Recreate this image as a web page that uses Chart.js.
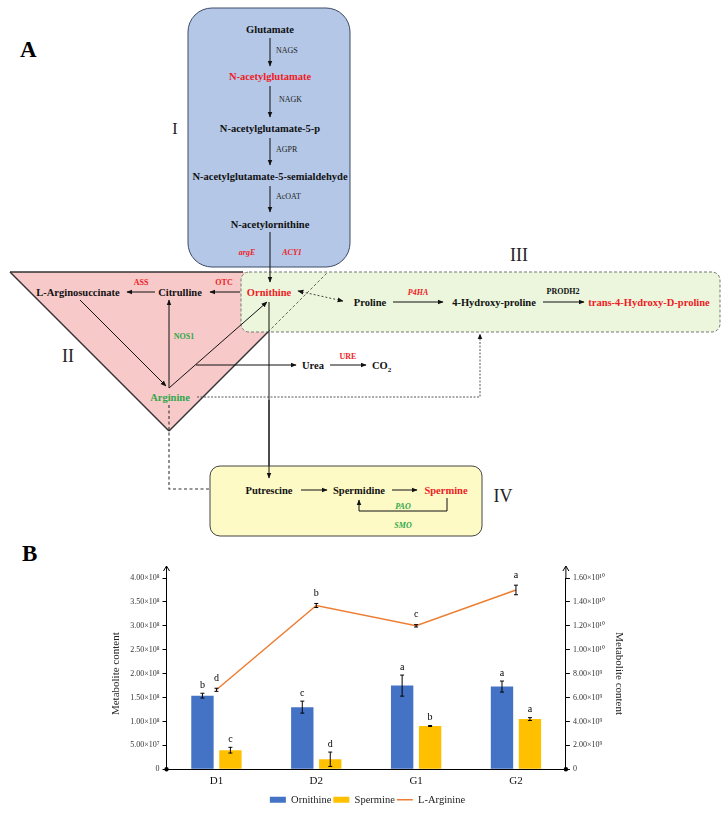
<!DOCTYPE html>
<html>
<head>
<meta charset="utf-8">
<script src="https://cdn.jsdelivr.net/npm/chart.js@4.4.1/dist/chart.umd.min.js"></script>
<style>
html, body { margin: 0; padding: 0; background: #fff; }
#page { position: relative; width: 728px; height: 813px; overflow: hidden; font-family: "Liberation Serif", "Times New Roman", serif; }
#diagram { position: absolute; left: 0; top: 0; }
#chartBox { position: absolute; left: 96px; top: 556px; width: 545px; height: 259px; }
#diagram text { font-family: "Liberation Serif", "Times New Roman", serif; }
.n { font-weight: bold; font-size: 10.5px; text-anchor: middle; fill: #111; }
.e { font-size: 8px; fill: #222; }
.eb { font-size: 8px; font-weight: bold; text-anchor: middle; }
.rom { font-size: 18px; text-anchor: middle; fill: #222; }
.red { fill: #ee1c25; }
.grn { fill: #2ea84a; }
.it { font-style: italic; }
.ln { stroke: #111; stroke-width: 1; fill: none; }
</style>
</head>
<body>
<div id="page">
<svg id="diagram" width="728" height="575" viewBox="0 0 728 575">
  <defs>
    <marker id="ah" viewBox="0 0 10 10" refX="9" refY="5" markerWidth="6" markerHeight="6" markerUnits="userSpaceOnUse" orient="auto-start-reverse">
      <path d="M0,1 L10,5 L0,9 z" fill="#111"/>
    </marker>
  </defs>

  <text x="20" y="57" style="font-weight:bold;font-size:23px;fill:#000">A</text>
  <text x="22" y="561" style="font-weight:bold;font-size:23px;fill:#000">B</text>

  <!-- box I -->
  <rect x="188" y="8" width="162" height="259" rx="24" fill="#b4c7e7" stroke="#3d4a66" stroke-width="1"/>
  <text class="n" x="270" y="33">Glutamate</text>
  <text class="n red" x="270" y="80">N-acetylglutamate</text>
  <text class="n" x="270" y="132">N-acetylglutamate-5-p</text>
  <text class="n" x="270" y="180">N-acetylglutamate-5-semialdehyde</text>
  <text class="n" x="270" y="228">N-acetylornithine</text>
  <line class="ln" x1="270" y1="38" x2="270" y2="66" marker-end="url(#ah)"/>
  <line class="ln" x1="270" y1="86" x2="270" y2="117" marker-end="url(#ah)"/>
  <line class="ln" x1="270" y1="138" x2="270" y2="165" marker-end="url(#ah)"/>
  <line class="ln" x1="270" y1="186" x2="270" y2="212" marker-end="url(#ah)"/>
  <text class="e" x="276" y="53">NAGS</text>
  <text class="e" x="279" y="102">NAGK</text>
  <text class="e" x="276" y="152">AGPR</text>
  <text class="e" x="276" y="199">AcOAT</text>
  <text class="eb it red" x="247" y="255">argE</text>
  <text class="eb it red" x="292" y="255">ACY1</text>
  <text class="rom" x="175" y="134" style="font-size:16px">I</text>

  <!-- triangle II and box III -->
  <polygon points="10,272 328,272 169,431" fill="#f8c9c9"/>
  <rect x="241" y="272" width="479" height="60" rx="8" fill="#ebf6dc" stroke="#777" stroke-width="1" stroke-dasharray="3 2"/>
  <line x1="10" y1="272" x2="243" y2="272" stroke="#333" stroke-width="1.5"/>
  <line x1="10" y1="272" x2="169" y2="431" stroke="#333" stroke-width="1.5"/>
  <line x1="169" y1="431" x2="268" y2="332" stroke="#333" stroke-width="1.5"/>
  <line x1="268" y1="332" x2="328" y2="272" stroke="#444" stroke-width="0.8" stroke-dasharray="3 2"/>
  <text class="rom" x="68" y="362">II</text>
  <text class="rom" x="519" y="261">III</text>

  <line class="ln" x1="270" y1="232" x2="270" y2="282" marker-end="url(#ah)"/>
  <text class="n" x="78" y="296">L-Arginosuccinate</text>
  <text class="n" x="180" y="296">Citrulline</text>
  <text class="n red" x="269" y="296">Ornithine</text>
  <text class="n grn" x="170" y="401">Arginine</text>
  <line class="ln" x1="155" y1="292" x2="127" y2="292" marker-end="url(#ah)"/>
  <line class="ln" x1="240" y1="292" x2="210" y2="292" marker-end="url(#ah)"/>
  <text class="eb red" x="141" y="285">ASS</text>
  <text class="eb red" x="224" y="285">OTC</text>
  <line class="ln" x1="169" y1="388" x2="169" y2="300" marker-end="url(#ah)"/>
  <text class="eb grn" x="184" y="339">NOS1</text>
  <line class="ln" x1="80" y1="300" x2="166" y2="386" marker-end="url(#ah)"/>
  <line class="ln" x1="169" y1="388" x2="267" y2="302" marker-end="url(#ah)"/>
  <line class="ln" x1="269" y1="302" x2="269" y2="478" marker-end="url(#ah)"/>
  <line class="ln" x1="196" y1="365" x2="296" y2="365" marker-end="url(#ah)"/>
  <text class="n" x="313" y="369">Urea</text>
  <line class="ln" x1="330" y1="365" x2="366" y2="365" marker-end="url(#ah)"/>
  <text class="eb red" x="348" y="359">URE</text>
  <text class="n" x="372" y="369" style="text-anchor:start">CO<tspan dy="3" style="font-size:7px">2</tspan></text>

  <line x1="298" y1="291" x2="343" y2="301" stroke="#333" stroke-width="0.9" stroke-dasharray="2 2" marker-start="url(#ah)" marker-end="url(#ah)"/>
  <text class="n" x="370" y="306">Proline</text>
  <line class="ln" x1="393" y1="302" x2="443" y2="302" marker-end="url(#ah)"/>
  <text class="eb it red" x="418" y="295">P4HA</text>
  <text class="n" x="494" y="306">4-Hydroxy-proline</text>
  <line class="ln" x1="543" y1="302" x2="584" y2="302" marker-end="url(#ah)"/>
  <text class="eb" x="563" y="294" style="fill:#111">PRODH2</text>
  <text class="n red" x="649" y="306">trans-4-Hydroxy-D-proline</text>

  <polyline points="197,397 480,397 480,334" fill="none" stroke="#444" stroke-width="0.9" stroke-dasharray="2 1.5" marker-end="url(#ah)"/>
  <polyline points="169,405 169,489 236,489" fill="none" stroke="#333" stroke-width="1.1" stroke-dasharray="3 2.5" marker-end="url(#ah)"/>

  <!-- box IV -->
  <rect x="210" y="466" width="272" height="70" rx="10" fill="#fdfac6" stroke="#444" stroke-width="1"/>
  <line class="ln" x1="269" y1="400" x2="269" y2="478" marker-end="url(#ah)"/>
  <text class="n" x="269" y="494">Putrescine</text>
  <line class="ln" x1="301" y1="490" x2="327" y2="490" marker-end="url(#ah)"/>
  <text class="n" x="359" y="494">Spermidine</text>
  <line class="ln" x1="392" y1="490" x2="417" y2="490" marker-end="url(#ah)"/>
  <text class="n red" x="446" y="494">Spermine</text>
  <polyline points="447,498 447,511 359,511 359,500" fill="none" stroke="#111" stroke-width="1" marker-end="url(#ah)"/>
  <text class="eb it grn" x="403" y="509">PAO</text>
  <text class="eb it grn" x="403" y="528">SMO</text>
  <text class="rom" x="503" y="502">IV</text>
</svg>

<div id="chartBox"><canvas id="metChart"></canvas></div>
</div>

<script>
// data
const categories = ['D1', 'D2', 'G1', 'G2'];
const ornithine = [1.54e8, 1.30e8, 1.75e8, 1.73e8];
const ornithineErr = [5e6, 1.25e7, 2.2e7, 1.15e7];
const ornithineSig = ['b', 'c', 'a', 'a'];
const spermine = [4.0e7, 2.1e7, 9.05e7, 1.05e8];
const spermineErr = [6e6, 1.5e7, 1e6, 3e6];
const spermineSig = ['c', 'd', 'b', 'a'];
const arginine = [6.65e9, 1.37e10, 1.2e10, 1.5e10];
const arginineErr = [1.3e8, 1.7e8, 1e8, 4e8];
const arginineSig = ['d', 'b', 'c', 'a'];
const leftTicks = ['0', '5.00×10⁷', '1.00×10⁸', '1.50×10⁸', '2.00×10⁸', '2.50×10⁸', '3.00×10⁸', '3.50×10⁸', '4.00×10⁸'];
const rightTicks = ['0', '2.00×10⁹', '4.00×10⁹', '6.00×10⁹', '8.00×10⁹', '1.00×10¹⁰', '1.20×10¹⁰', '1.40×10¹⁰', '1.60×10¹⁰'];

const serif = '"Liberation Serif", "Times New Roman", serif';

// error bars, letters, axis arrows
const extrasPlugin = {
    id: 'extras',
    afterDatasetsDraw(chart) {
        const ctx = chart.ctx;
        const area = chart.chartArea;
        ctx.save();
        ctx.strokeStyle = '#000';
        ctx.fillStyle = '#000';
        ctx.lineWidth = 1;
        chart.data.datasets.forEach((ds, i) => {
            const meta = chart.getDatasetMeta(i);
            const scale = chart.scales[meta.yAxisID];
            meta.data.forEach((el, j) => {
                const v = ds.data[j];
                const top = scale.getPixelForValue(v + ds.errors[j]);
                const bot = scale.getPixelForValue(v - ds.errors[j]);
                ctx.beginPath();
                ctx.moveTo(el.x, top); ctx.lineTo(el.x, bot);
                ctx.moveTo(el.x - 2, top); ctx.lineTo(el.x + 2, top);
                ctx.moveTo(el.x - 2, bot); ctx.lineTo(el.x + 2, bot);
                ctx.stroke();
                ctx.font = '10px ' + serif;
                ctx.textAlign = 'center';
                ctx.textBaseline = 'bottom';
                ctx.fillText(ds.letters[j], el.x, top - (ds.type === 'line' ? 5 : 3));
            });
        });
        // y axis arrows and x axis end dots
        [area.left, area.right].forEach(x => {
            ctx.beginPath();
            ctx.moveTo(x, area.top); ctx.lineTo(x, area.top - 12);
            ctx.moveTo(x - 3, area.top - 7); ctx.lineTo(x, area.top - 12); ctx.lineTo(x + 3, area.top - 7);
            ctx.stroke();
            ctx.beginPath();
            ctx.arc(x, area.bottom, 2.2, 0, Math.PI * 2);
            ctx.fill();
        });
        ctx.restore();
    }
};

const yAxisBase = {
    beginAtZero: true,
    grid: { drawOnChartArea: false, drawTicks: true, tickLength: 4, color: '#000' },
    border: { display: true, color: '#000', width: 1 },
    title: { display: true, text: 'Metabolite content', color: '#222', font: { family: serif, size: 11 }, padding: 4 }
};

new Chart(document.getElementById('metChart'), {
    type: 'bar',
    data: {
        labels: categories,
        datasets: [
            {
                label: 'Ornithine', data: ornithine, errors: ornithineErr, letters: ornithineSig,
                backgroundColor: '#4472c4', yAxisID: 'y', order: 2, pointStyle: 'rect',
                categoryPercentage: 0.56, barPercentage: 0.8
            },
            {
                label: 'Spermine', data: spermine, errors: spermineErr, letters: spermineSig,
                backgroundColor: '#ffc000', yAxisID: 'y', order: 2, pointStyle: 'rect',
                categoryPercentage: 0.56, barPercentage: 0.8
            },
            {
                type: 'line', label: 'L-Arginine', data: arginine, errors: arginineErr, letters: arginineSig,
                borderColor: '#ed7d31', backgroundColor: '#ed7d31', borderWidth: 1.5,
                pointRadius: 0, pointStyle: 'line', tension: 0, yAxisID: 'y1', order: 1
            }
        ]
    },
    options: {
        responsive: true,
        maintainAspectRatio: false,
        animation: false,
        layout: { padding: { top: 22, left: 10, right: 12, bottom: 0 } },
        scales: {
            x: {
                grid: { display: false, drawTicks: false },
                border: { display: true, color: '#000', width: 1 },
                ticks: { color: '#111', font: { family: serif, size: 11 }, padding: 5 }
            },
            y: Object.assign({}, yAxisBase, {
                position: 'left', min: 0, max: 4e8,
                ticks: { stepSize: 5e7, color: '#333', font: { family: serif, size: 8 }, padding: 3,
                    callback: (v, i) => leftTicks[i] }
            }),
            y1: Object.assign({}, yAxisBase, {
                position: 'right', min: 0, max: 1.6e10,
                ticks: { stepSize: 2e9, color: '#333', font: { family: serif, size: 8 }, padding: 3,
                    callback: (v, i) => rightTicks[i] }
            })
        },
        plugins: {
            legend: {
                position: 'bottom',
                labels: {
                    usePointStyle: true, pointStyleWidth: 16, boxHeight: 6,
                    color: '#222', font: { family: serif, size: 10.5 }, padding: 2,
                    sort: (a, b) => a.datasetIndex - b.datasetIndex
                }
            },
            tooltip: { enabled: false }
        }
    },
    plugins: [extrasPlugin]
});
</script>
</body>
</html>
